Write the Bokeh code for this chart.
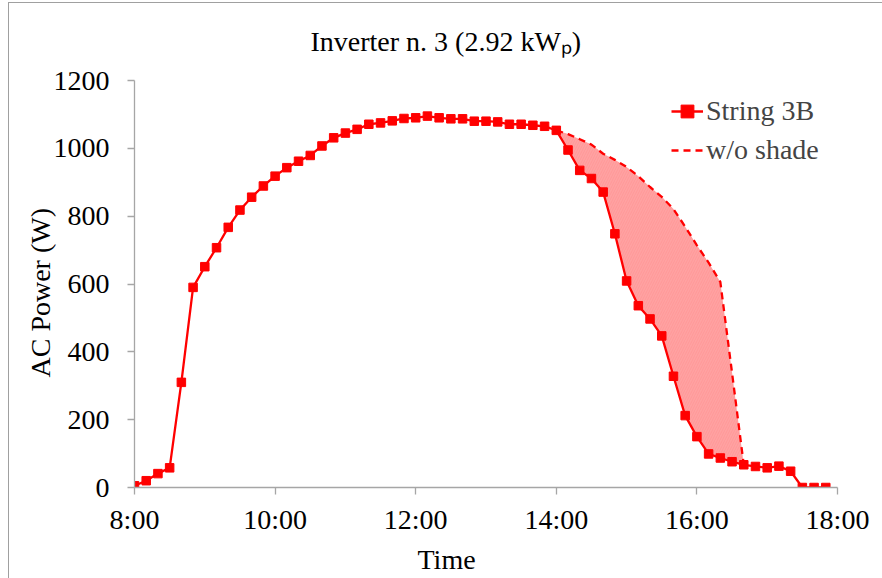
from bokeh.plotting import figure
from bokeh.models import FixedTicker, Legend, LegendItem, Title, Range1d
from bokeh.embed import file_html
from bokeh.resources import INLINE

# ---------------- data ----------------
times = ["8:00", "8:10", "8:20", "8:30", "8:40", "8:50",
         "9:00", "9:10", "9:20", "9:30", "9:40", "9:50",
         "10:00", "10:10", "10:20", "10:30", "10:40", "10:50",
         "11:00", "11:10", "11:20", "11:30", "11:40", "11:50",
         "12:00", "12:10", "12:20", "12:30", "12:40", "12:50",
         "13:00", "13:10", "13:20", "13:30", "13:40", "13:50",
         "14:00", "14:10", "14:20", "14:30", "14:40", "14:50",
         "15:00", "15:10", "15:20", "15:30", "15:40", "15:50",
         "16:00", "16:10", "16:20", "16:30", "16:40", "16:50",
         "17:00", "17:10", "17:20", "17:30", "17:40", "17:50"]
string_3b = [5, 20, 41, 58, 310, 590,
             651, 707, 767, 818, 856, 889,
             918, 943, 962, 979, 1007, 1031,
             1045, 1056, 1071, 1075, 1081, 1088,
             1090, 1095, 1090, 1087, 1087, 1080,
             1080, 1078, 1071, 1071, 1068, 1065,
             1053, 995, 935, 911, 871, 748,
             609, 536, 497, 447, 328, 212,
             150, 99, 87, 76, 67, 62,
             58, 63, 48, 0, 0, 0]

shade_times = ["14:00", "14:10", "14:20", "14:30", "14:40", "14:50",
               "15:00", "15:10", "15:20", "15:30", "15:40", "15:50",
               "16:00", "16:10", "16:20", "16:30", "16:40"]
wo_shade = [1053, 1042, 1027, 1011, 984, 966,
            945, 918, 886, 857, 821, 769,
            714, 663, 606, 338, 67]

x_tick_labels = ["8:00", "10:00", "12:00", "14:00", "16:00", "18:00"]
y_ticks = [0, 200, 400, 600, 800, 1000, 1200]

title_text = "Inverter n. 3 (2.92 kW\u209a)"
x_label = "Time"
y_label = "AC Power (W)"
series_names = ["String 3B", "w/o shade"]


def to_h(t):
    h, m = t.split(":")
    return int(h) + int(m) / 60.0


x = [to_h(t) for t in times]
xs = [to_h(t) for t in shade_times]
lookup = dict(zip(times, string_3b))
lower = [lookup[t] for t in shade_times]

FONT = "Liberation Serif"
RED = "#ff0000"
AXIS_GRAY = "#a6a6a6"
FRAME_GRAY = "#a0a0a0"

p = figure(width=882, height=578, output_backend="svg", toolbar_location=None,
           x_range=Range1d(to_h(x_tick_labels[0]), to_h(x_tick_labels[-1])),
           y_range=Range1d(y_ticks[0], y_ticks[-1]),
           min_border_left=134, min_border_right=45,
           min_border_top=79, min_border_bottom=88)
p.xgrid.visible = False
p.ygrid.visible = False
p.outline_line_color = None
p.background_fill_color = "white"
p.border_fill_color = None
p.styles = {"background": (
    f"linear-gradient({FRAME_GRAY}, {FRAME_GRAY}) 8px 2px / 1px 576px no-repeat, "
    f"linear-gradient({FRAME_GRAY}, {FRAME_GRAY}) 8px 2px / 874px 1px no-repeat, "
    "#ffffff")}

xt = [to_h(t) for t in x_tick_labels]
p.xaxis.ticker = FixedTicker(ticks=xt)
p.xaxis.major_label_overrides = {int(round(v)): lab for v, lab in zip(xt, x_tick_labels)}
p.yaxis.ticker = FixedTicker(ticks=y_ticks)

for ax in (p.xaxis[0], p.yaxis[0]):
    ax.axis_line_color = AXIS_GRAY
    ax.axis_line_width = 1.3
    ax.major_tick_line_color = AXIS_GRAY
    ax.major_tick_line_width = 1.3
    ax.minor_tick_line_color = None
    ax.major_tick_in = 0
    ax.major_tick_out = 7
    ax.major_label_text_font = FONT
    ax.major_label_text_font_size = "28px"
    ax.major_label_text_color = "black"
p.xaxis.major_label_standoff = 9
p.yaxis.major_label_standoff = 18

# shaded difference between the two curves
p.varea(x=xs, y1=lower, y2=wo_shade, fill_color="#ffa2a2",
        hatch_pattern="/", hatch_color="#ff8c8c", hatch_alpha=0.45,
        hatch_weight=1, hatch_scale=5)

r_wo = p.line(xs, wo_shade, line_color=RED, line_width=2.3, line_dash="7 5")
r_line = p.line(x, string_3b, line_color=RED, line_width=2.3)
r_pts = p.scatter(x, string_3b, marker="square", size=8.5,
                  fill_color=RED, line_color=RED)

legend = Legend(items=[LegendItem(label=series_names[0], renderers=[r_line, r_pts]),
                       LegendItem(label=series_names[1], renderers=[r_wo])],
                location=(537, 321), padding=0, margin=0, spacing=7,
                glyph_width=32, glyph_height=32, label_height=32,
                label_standoff=3, label_text_font=FONT,
                label_text_font_size="28px",
                background_fill_alpha=0, border_line_alpha=0)
p.add_layout(legend)

# main title
p.title.text = title_text
p.title.align = "left"
p.title.offset = 176
p.title.standoff = 47
p.title.text_font = FONT
p.title.text_font_size = "28px"
p.title.text_font_style = "normal"
p.title.text_color = "black"

# axis titles
p.add_layout(Title(text=x_label, align="left", offset=283, standoff=8,
                   text_font=FONT, text_font_size="28px",
                   text_font_style="normal", text_color="black"), "below")
p.add_layout(Title(text=y_label, align="left", offset=110, standoff=-10,
                   text_font=FONT, text_font_size="28px",
                   text_font_style="normal", text_color="black"), "left")

open("out.html", "w").write(file_html(p, INLINE))
